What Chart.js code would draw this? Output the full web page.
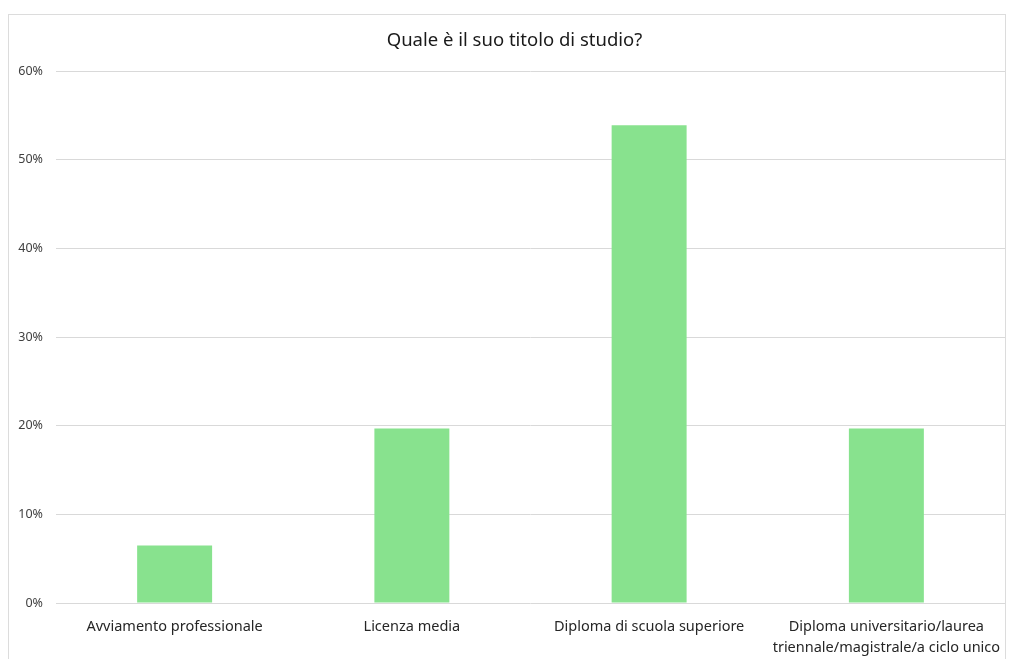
<!DOCTYPE html>
<html>
<head>
<meta charset="utf-8">
<script src="https://cdn.jsdelivr.net/npm/chart.js@4"></script>
<style>
  html, body { margin: 0; padding: 0; background: #fff; }
  body { width: 1009px; height: 659px; position: relative; overflow: hidden; }
  #cornice { position: absolute; left: 8px; top: 14px; width: 998px; height: 700px; border: 1px solid #dcdcdc; box-sizing: border-box; }
  #wrap { position: absolute; left: 0; top: 0; width: 1009px; height: 659px; }
</style>
</head>
<body>
<div id="cornice"></div>
<div id="wrap"><canvas id="grafico"></canvas></div>
<script>
// dati
var categorie = [
    'Avviamento professionale',
    'Licenza media',
    'Diploma di scuola superiore',
    ['Diploma universitario/laurea', 'triennale/magistrale/a ciclo unico']
];
var percentuali = [6.5, 19.7, 53.9, 19.7];
var titolo = 'Quale è il suo titolo di studio?';

// il titolo nell'originale è centrato un po' più a destra
var spostaTitolo = {
    id: 'spostaTitolo',
    afterLayout: function (chart) {
        if (chart.titleBlock) {
            chart.titleBlock.left = 24;
        }
    }
};

var ctx = document.getElementById('grafico').getContext('2d');

var chart = new Chart(ctx, {
    type: 'bar',
    data: {
        labels: categorie,
        datasets: [{
            data: percentuali,
            backgroundColor: '#88e28e',
            borderWidth: 0,
            categoryPercentage: 1,
            barPercentage: 0.316
        }]
    },
    options: {
        responsive: true,
        maintainAspectRatio: false,
        animation: false,
        layout: { padding: { left: 0, right: 4, top: 0, bottom: 0 } },
        plugins: {
            legend: { display: false },
            tooltip: { enabled: false },
            title: {
                display: true,
                text: titolo,
                color: '#1a1a1a',
                font: { family: 'Noto Sans', size: 18.5, weight: 'normal' },
                padding: { top: 30, bottom: 19 }
            }
        },
        scales: {
            x: {
                grid: { display: false },
                border: { display: false },
                ticks: {
                    color: '#262626',
                    font: { family: 'Noto Sans', size: 14.5, lineHeight: 1.4 },
                    padding: 6,
                    maxRotation: 0,
                    autoSkip: false
                },
                afterFit: function (scale) { scale.height = 56; }
            },
            y: {
                min: 0,
                max: 60,
                grid: { color: '#d9d9d9', drawTicks: false, lineWidth: 1 },
                border: { display: false },
                ticks: {
                    stepSize: 10,
                    padding: 13,
                    color: '#404040',
                    font: { family: 'Noto Sans', size: 12.5 },
                    callback: function (v) { return v + '%'; }
                },
                afterFit: function (scale) { scale.width = 56; }
            }
        }
    },
    plugins: [spostaTitolo]
});
</script>
</body>
</html>
